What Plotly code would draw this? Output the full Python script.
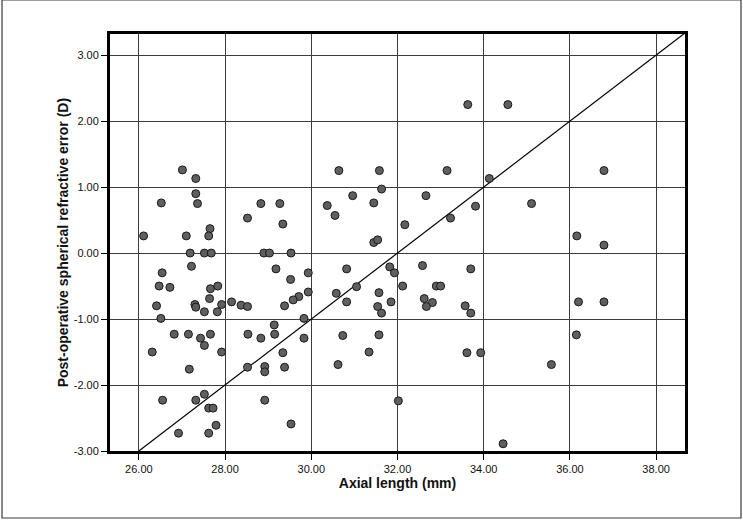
import plotly.graph_objects as go

# Axial length (mm) vs post-operative spherical refractive error (D)
axial_length = [
    27.01, 27.32, 26.52, 27.32, 27.36, 28.83, 29.27, 28.52, 29.34, 30.37,
    30.55, 27.65, 26.11, 27.10, 27.62,
    27.19, 27.52, 27.68, 28.90, 29.03, 29.53,
    27.22, 26.54, 29.18, 29.52, 29.93, 26.47, 26.72, 27.66, 27.83, 27.64,
    29.93, 29.71, 29.58, 29.38, 26.41, 27.30, 27.32, 27.52, 27.82, 27.92,
    28.15, 28.37, 28.52, 26.51, 29.83, 29.14, 26.82, 27.15, 27.43, 27.66,
    27.52, 28.53, 28.83, 29.15, 29.83, 26.31, 27.92, 29.34, 27.17, 28.52,
    28.92, 28.92, 29.38, 26.55, 27.32, 27.52, 27.62, 27.72, 28.92, 29.53,
    26.92, 27.62, 27.79,
    33.63, 34.56, 30.64, 31.58, 33.15, 31.63, 30.96, 32.66, 34.13, 31.45,
    33.81, 33.23, 32.17, 31.45, 31.54,
    30.82, 31.82, 31.93, 32.58, 33.70, 31.05, 30.58, 31.57, 32.12, 32.90,
    33.00, 30.82, 31.54, 31.63, 31.85, 32.62, 32.81, 32.67, 33.57, 33.70,
    30.73, 31.57, 31.34, 30.62, 33.61, 33.93, 32.02, 34.45,
    36.79, 35.11, 36.16, 36.79, 36.20, 36.79, 36.15, 35.57,
]
refractive_error = [
    1.26, 1.13, 0.76, 0.90, 0.75, 0.75, 0.75, 0.53, 0.44, 0.72,
    0.57, 0.37, 0.26, 0.26, 0.26,
    0.00, 0.00, 0.00, 0.00, 0.00, 0.00,
    -0.20, -0.30, -0.24, -0.40, -0.30, -0.50, -0.52, -0.54, -0.50, -0.69,
    -0.59, -0.66, -0.71, -0.80, -0.80, -0.78, -0.82, -0.89, -0.89, -0.78,
    -0.74, -0.79, -0.81, -0.99, -0.99, -1.09, -1.23, -1.23, -1.29, -1.23,
    -1.40, -1.23, -1.29, -1.23, -1.29, -1.50, -1.50, -1.51, -1.76, -1.73,
    -1.72, -1.80, -1.73, -2.23, -2.23, -2.14, -2.35, -2.35, -2.23, -2.59,
    -2.73, -2.73, -2.61,
    2.25, 2.25, 1.25, 1.25, 1.25, 0.97, 0.87, 0.87, 1.13, 0.76,
    0.71, 0.53, 0.43, 0.16, 0.20,
    -0.24, -0.21, -0.30, -0.19, -0.24, -0.51, -0.61, -0.60, -0.50, -0.50,
    -0.50, -0.74, -0.81, -0.91, -0.74, -0.69, -0.75, -0.81, -0.80, -0.91,
    -1.25, -1.24, -1.50, -1.69, -1.51, -1.51, -2.24, -2.89,
    1.25, 0.75, 0.26, 0.12, -0.74, -0.74, -1.24, -1.69,
]

# reference line (corner to corner of the plot frame)
ref_x = [26.0, 38.67]
ref_y = [-3.0, 3.335]

x_ticks = [26, 28, 30, 32, 34, 36, 38]
y_ticks = [-3, -2, -1, 0, 1, 2, 3]

fig = go.Figure()

fig.add_trace(go.Scatter(
    x=ref_x, y=ref_y,
    mode='lines',
    line=dict(color='black', width=1.2),
    hoverinfo='skip',
    showlegend=False
))

fig.add_trace(go.Scatter(
    x=axial_length, y=refractive_error,
    mode='markers',
    marker=dict(size=8, color='#5f5f5f', line=dict(color='#1a1a1a', width=1)),
    showlegend=False
))

# outer border around the whole chart
fig.add_shape(type='rect', xref='paper', yref='paper',
              x0=-0.1878, x1=1.0974, y0=-0.1607, y1=1.0815,
              line=dict(color='#3a3a3a', width=1.2), layer='below')

# y title as annotation so it can sit closer to the tick labels
fig.add_annotation(
    text='<b>Post-operative spherical refractive error (D)</b>',
    xref='paper', yref='paper', x=-0.082, y=0.5,
    xanchor='center', yanchor='middle', textangle=-90,
    showarrow=False, font=dict(size=14, color='#111')
)

fig.update_layout(
    width=743, height=520,
    margin=dict(l=110, r=58, t=34, b=69),
    plot_bgcolor='white',
    paper_bgcolor='white',
    font=dict(family='Liberation Sans, Arial, sans-serif', color='#111', size=11),
)

fig.update_xaxes(
    range=[25.33, 38.67],
    tickvals=x_ticks,
    ticktext=[f'{v:.2f}' for v in x_ticks],
    showgrid=True, gridcolor='#3c3c3c', gridwidth=1.3,
    zeroline=False,
    showline=True, linecolor='black', linewidth=3, mirror=True,
    ticks='outside', ticklen=6, tickcolor='black', tickwidth=1,
    title=dict(text='<b>Axial length (mm)</b>', font=dict(size=14, color='#111'), standoff=3),
)

fig.update_yaxes(
    range=[-3.0, 3.32],
    tickvals=y_ticks,
    ticktext=[f'{v:.2f}' for v in y_ticks],
    showgrid=True, gridcolor='#3c3c3c', gridwidth=1.3,
    zeroline=False,
    showline=True, linecolor='black', linewidth=3, mirror=True,
    ticks='outside', ticklen=6, tickcolor='black', tickwidth=1,
)

fig.write_html("out.html", config={'displayModeBar': False},
               post_script="document.body.style.margin='0';")
